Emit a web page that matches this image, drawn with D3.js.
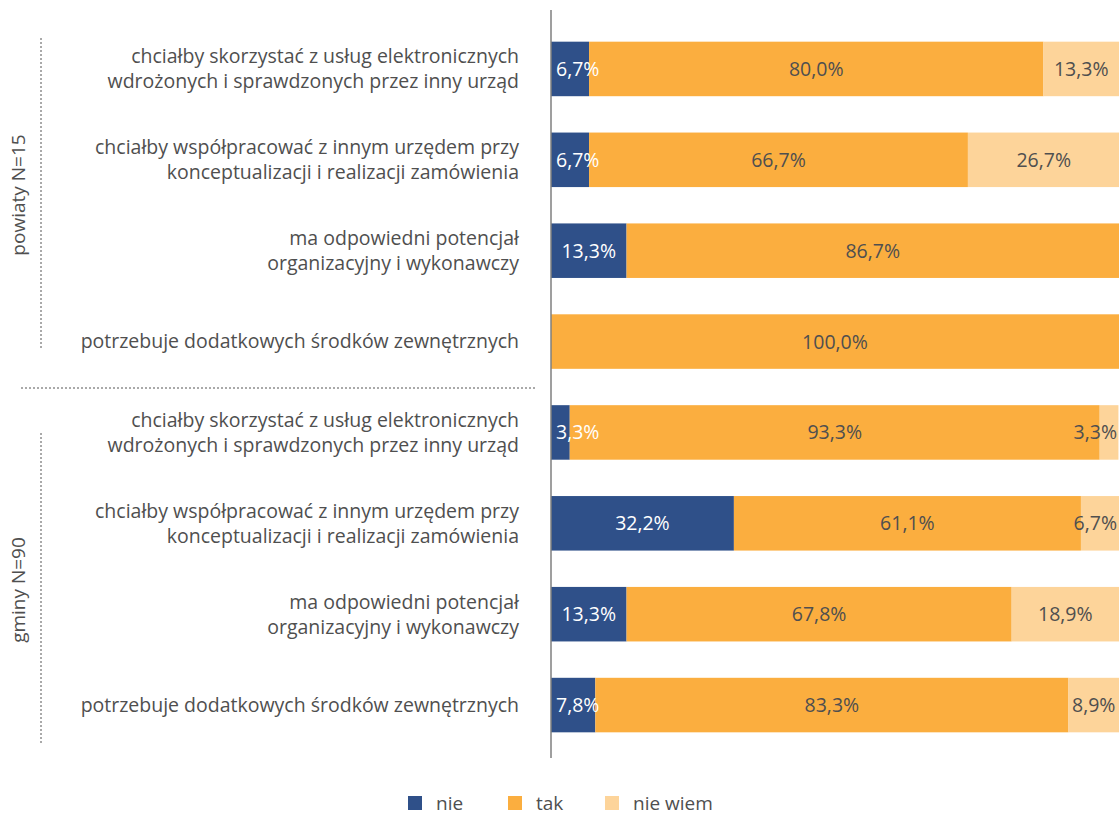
<!DOCTYPE html>
<html>
<head>
<meta charset="utf-8">
<script src="https://cdn.jsdelivr.net/npm/d3@7"></script>
<style>
  body { margin: 0; background: #fff; }
  svg text { font-family: "Open Sans", sans-serif; }
</style>
</head>
<body>
<div id="chart"></div>
<script>
const width = 1119;
const height = 816;

const categories = [
  ["chciałby skorzystać z usług elektronicznych", "wdrożonych i sprawdzonych przez inny urząd"],
  ["chciałby współpracować z innym urzędem przy", "konceptualizacji i realizacji zamówienia"],
  ["ma odpowiedni potencjał", "organizacyjny i wykonawczy"],
  ["potrzebuje dodatkowych środków zewnętrznych"],
  ["chciałby skorzystać z usług elektronicznych", "wdrożonych i sprawdzonych przez inny urząd"],
  ["chciałby współpracować z innym urzędem przy", "konceptualizacji i realizacji zamówienia"],
  ["ma odpowiedni potencjał", "organizacyjny i wykonawczy"],
  ["potrzebuje dodatkowych środków zewnętrznych"]
];
const groups = ["powiaty N=15", "gminy N=90"];
const seriesNames = ["nie", "tak", "nie wiem"];
const nieValues = [6.7, 6.7, 13.3, 0, 3.3, 32.2, 13.3, 7.8];
const takValues = [80.0, 66.7, 86.7, 100.0, 93.3, 61.1, 67.8, 83.3];
const nieWiemValues = [13.3, 26.7, 0, 0, 3.3, 6.7, 18.9, 8.9];

const colors = ["#2f5089", "#fbae3f", "#fdd49a"];
const labelColors = ["#ffffff", "#4f4f4f", "#4f4f4f"];
const textColor = "#4f4f4f";

const rows = categories.map((c, i) => ({
  id: i,
  label: c,
  nie: nieValues[i],
  tak: takValues[i],
  "nie wiem": nieWiemValues[i]
}));

const svg = d3.select("#chart").append("svg")
  .attr("width", width)
  .attr("height", height);

const x0 = 551;
const x = d3.scaleLinear().domain([0, 100]).range([x0, width]);
const y = d3.scaleBand()
  .domain(rows.map(d => d.id))
  .range([23.5, 750.5])
  .paddingInner(0.4)
  .paddingOuter(0.2);

const stack = d3.stack().keys(seriesNames);
const stacked = stack(rows);

const fmt = v => d3.format(".1f")(v).replace(".", ",") + "%";

// bars
stacked.forEach((layer, k) => {
  svg.append("g")
    .selectAll("rect")
    .data(layer)
    .join("rect")
    .attr("x", d => x(d[0]))
    .attr("y", d => y(d.data.id))
    .attr("width", d => x(d[1]) - x(d[0]))
    .attr("height", y.bandwidth())
    .attr("fill", colors[k]);
});

// value labels
stacked.forEach((layer, k) => {
  svg.append("g")
    .selectAll("text")
    .data(layer.filter(d => d[1] - d[0] > 0))
    .join("text")
    .attr("y", d => y(d.data.id) + y.bandwidth() / 2)
    .attr("dy", "0.36em")
    .attr("fill", labelColors[k])
    .attr("font-size", 19.5)
    .text(d => fmt(d[1] - d[0]))
    .each(function (d) {
      const w = this.getComputedTextLength();
      let cx = (x(d[0]) + x(d[1])) / 2;
      cx = Math.max(cx, x0 + 5 + w / 2);
      cx = Math.min(cx, width - 2 - w / 2);
      d3.select(this).attr("x", cx).attr("text-anchor", "middle");
    });
});

// axis line
svg.append("line")
  .attr("x1", x0).attr("x2", x0)
  .attr("y1", 10).attr("y2", 758)
  .attr("stroke", "#7f7f7f")
  .attr("stroke-width", 1.5);

// category labels
const lab = svg.append("g")
  .selectAll("text")
  .data(rows)
  .join("text")
  .attr("text-anchor", "end")
  .attr("x", 519)
  .attr("fill", textColor)
  .attr("font-size", 19.5);

lab.each(function (d) {
  const t = d3.select(this);
  const n = d.label.length;
  const cy = y(d.id) + y.bandwidth() / 2;
  d.label.forEach((line, i) => {
    t.append("tspan")
      .attr("x", 519)
      .attr("y", cy + (i - (n - 1) / 2) * 25)
      .attr("dy", "0.35em")
      .text(line);
  });
});

// group separators and labels
const dotted = "2,2";
svg.append("line")
  .attr("x1", 21).attr("x2", 535)
  .attr("y1", 388).attr("y2", 388)
  .attr("stroke", "#555555")
  .attr("stroke-dasharray", dotted);

const groupSpans = [[38, 350], [433, 745]];
groupSpans.forEach(s => {
  svg.append("line")
    .attr("x1", 41).attr("x2", 41)
    .attr("y1", s[0]).attr("y2", s[1])
    .attr("stroke", "#555555")
    .attr("stroke-dasharray", dotted);
});

svg.append("g")
  .selectAll("text")
  .data(groups)
  .join("text")
  .attr("transform", (d, i) => {
    const cy = i === 0 ? 195 : 590;
    return `translate(18, ${cy}) rotate(-90)`;
  })
  .attr("text-anchor", "middle")
  .attr("dy", "0.35em")
  .attr("fill", textColor)
  .attr("font-size", 19)
  .text(d => d);

// legend
const legendX = [408, 508, 605];
const legend = svg.append("g")
  .selectAll("g")
  .data(seriesNames)
  .join("g")
  .attr("transform", (d, i) => `translate(${legendX[i]}, 803)`);

legend.append("rect")
  .attr("x", 0).attr("y", -7)
  .attr("width", 14).attr("height", 14)
  .attr("fill", (d, i) => colors[i]);

legend.append("text")
  .attr("x", 28)
  .attr("dy", "0.35em")
  .attr("fill", textColor)
  .attr("font-size", 19)
  .text(d => d);
</script>
</body>
</html>
